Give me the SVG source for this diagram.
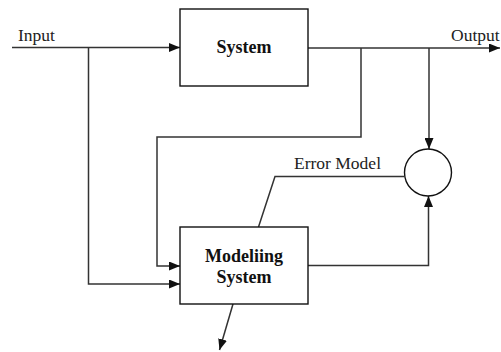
<svg xmlns="http://www.w3.org/2000/svg" width="501" height="352" viewBox="0 0 501 352">
<defs>
<marker id="arr" viewBox="0 0 11 9" refX="11" refY="4.5" markerWidth="11" markerHeight="9" markerUnits="userSpaceOnUse" orient="auto">
<path d="M0,0 L11,4.5 L0,9 Z" fill="#111"/>
</marker>
<style>
.box{fill:#fff;stroke:#111;stroke-width:1.4}
.ln{fill:none;stroke:#333;stroke-width:1.5}
.t{font-family:"Liberation Serif","Times New Roman",serif;font-size:17.5px;fill:#222}
.b{font-family:"Liberation Serif","Times New Roman",serif;font-size:18px;font-weight:bold;fill:#111;text-anchor:middle}
</style>
</defs>
<rect width="501" height="352" fill="#fff"/>
<g id="connectors">
<path class="ln" d="M12,47.5 H180" marker-end="url(#arr)"/>
<path class="ln" d="M88.5,47.5 V284 H180" marker-end="url(#arr)"/>
<path class="ln" d="M308,48 H500" marker-end="url(#arr)"/>
<path class="ln" d="M361,48 V137 H157 V266 H180" marker-end="url(#arr)"/>
<path class="ln" d="M429,48 V149" marker-end="url(#arr)"/>
<path class="ln" d="M308,265.5 H428.5 V196" marker-end="url(#arr)"/>
<path class="ln" d="M404,176.5 H275 L258.5,227"/>
<path class="ln" d="M233,304 L219.5,350" marker-end="url(#arr)"/>
</g>
<g id="system">
<rect class="box" x="180" y="9" width="128" height="77"/>
<text class="b" x="244" y="53">System</text>
</g>
<g id="modeling">
<rect class="box" x="180" y="227" width="128" height="77"/>
<text class="b" x="244" y="262">Modeliing</text>
<text class="b" x="244" y="283">System</text>
</g>
<g id="comparator">
<circle class="box" cx="428" cy="172.5" r="23.5"/>
</g>
<g id="labels">
<text class="t" x="18" y="40.5">Input</text>
<text class="t" x="451" y="40.5">Output</text>
<text class="t" x="294" y="169">Error Model</text>
</g>
</svg>
